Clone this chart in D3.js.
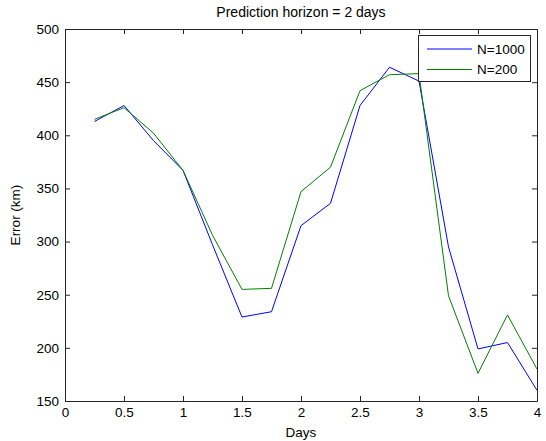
<!DOCTYPE html>
<html>
<head>
<meta charset="utf-8">
<script src="https://cdn.jsdelivr.net/npm/d3@7/dist/d3.min.js"></script>
<style>
html,body{margin:0;padding:0;background:#fff;}
svg{display:block;}
text{font-family:"Liberation Sans",Arial,sans-serif;}
</style>
</head>
<body>
<svg id="chart" width="546" height="441"></svg>
<script>
const days = [0.25,0.5,0.75,1.0,1.25,1.5,1.75,2.0,2.25,2.5,2.75,3.0,3.25,3.5,3.75,4.0];
const errN1000 = [413,428,395,367,297,229,234,315,336,428,464,451,295,199,205,160];
const errN200  = [415,426,402,367,306,255,256,347,370,442,457,458,249,176,231,180];
const seriesNames = ["N=1000","N=200"];
const seriesColors = ["#0000ff","#008000"];
const xTicks = [0,0.5,1,1.5,2,2.5,3,3.5,4];
const yTicks = [150,200,250,300,350,400,450,500];
const titleText = "Prediction horizon = 2 days";
const xLabel = "Days";
const yLabel = "Error (km)";

const W=546,H=441;
const m={left:65,right:9,top:29,bottom:40};
const pw=W-m.left-m.right, ph=H-m.top-m.bottom;
const svg=d3.select("#chart");
const x=d3.scaleLinear().domain([0,4]).range([m.left,m.left+pw]);
const y=d3.scaleLinear().domain([150,500]).range([m.top+ph,m.top]);
const fs=13.5, axisColor="#262626", tl=5;

svg.append("rect").attr("x",m.left).attr("y",m.top).attr("width",pw).attr("height",ph)
  .attr("fill","#fff");

// axes
const fmt=d=>String(d);
const gB=svg.append("g").attr("transform",`translate(0,${m.top+ph})`)
  .call(d3.axisBottom(x).tickValues(xTicks).tickFormat(fmt).tickSizeInner(-tl).tickSizeOuter(0).tickPadding(6));
const gT=svg.append("g").attr("transform",`translate(0,${m.top})`)
  .call(d3.axisTop(x).tickValues(xTicks).tickFormat("").tickSizeInner(-tl).tickSizeOuter(0));
const gL=svg.append("g").attr("transform",`translate(${m.left},0)`)
  .call(d3.axisLeft(y).tickValues(yTicks).tickFormat(fmt).tickSizeInner(-tl).tickSizeOuter(0).tickPadding(6));
const gR=svg.append("g").attr("transform",`translate(${m.left+pw},0)`)
  .call(d3.axisRight(y).tickValues(yTicks).tickFormat("").tickSizeInner(-tl).tickSizeOuter(0));
[gB,gT,gL,gR].forEach(g=>{
  g.selectAll("path").attr("stroke",axisColor).attr("stroke-width",1);
  g.selectAll("line").attr("stroke",axisColor).attr("stroke-width",1);
  g.selectAll("text").attr("fill","#000").style("font-size",fs+"px").style("font-family","Liberation Sans, Arial, sans-serif");
});
gB.selectAll("text").attr("dy","0.71em");

// lines
const line=d3.line().x((d,i)=>x(days[i])).y(d=>y(d));
[errN1000,errN200].forEach((s,k)=>{
  svg.append("path").datum(s).attr("d",line).attr("fill","none")
    .attr("stroke",seriesColors[k]).attr("stroke-width",1);
});

// title & labels
svg.append("text").attr("x",m.left+pw/2).attr("y",17).attr("text-anchor","middle")
  .style("font-size","14px").text(titleText);
svg.append("text").attr("x",m.left+pw/2).attr("y",437).attr("text-anchor","middle")
  .style("font-size",fs+"px").text(xLabel);
svg.append("text").attr("transform",`translate(20,${m.top+ph/2}) rotate(-90)`).attr("text-anchor","middle")
  .style("font-size",fs+"px").text(yLabel);

// legend
const lg=svg.append("g");
lg.append("rect").attr("x",418.5).attr("y",35.5).attr("width",112).attr("height",46)
  .attr("fill","#fff").attr("stroke",axisColor).attr("stroke-width",1);
seriesNames.forEach((n,k)=>{
  const yy=49+k*20.5;
  lg.append("line").attr("x1",427).attr("x2",472).attr("y1",yy).attr("y2",yy)
    .attr("stroke",seriesColors[k]).attr("stroke-width",1);
  lg.append("text").attr("x",477).attr("y",yy).attr("dy","0.35em")
    .style("font-size",fs+"px").text(n);
});
</script>
</body>
</html>
